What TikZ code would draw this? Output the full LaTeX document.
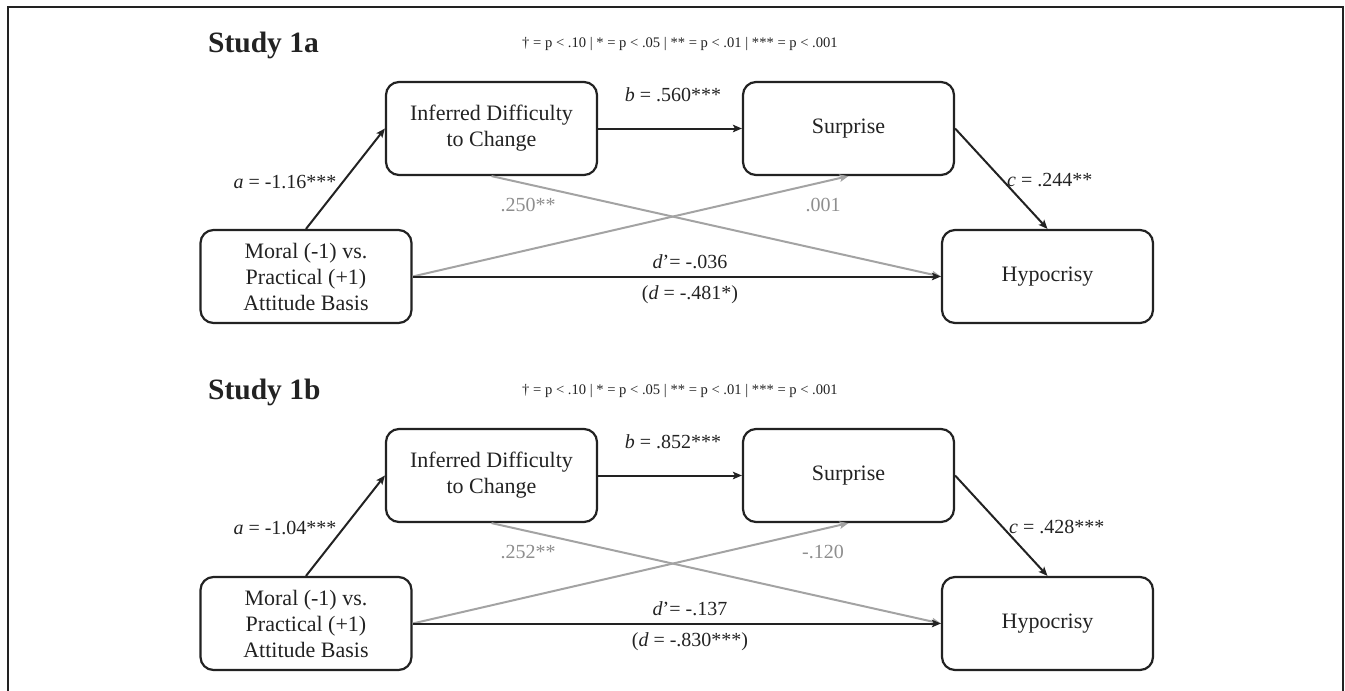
\documentclass[tikz,border=0pt]{standalone}
\usepackage{fontspec}
\setmainfont{Liberation Serif}
\usetikzlibrary{arrows.meta}
\definecolor{ink}{HTML}{222222}
\definecolor{lgray}{HTML}{A3A3A3}
\definecolor{tgray}{HTML}{8E8E8E}
\tikzset{
  box/.style={draw=ink, line width=2.2pt, rounded corners=13pt, minimum width=211pt,
    minimum height=93pt, align=center, inner sep=0pt, text=ink,
    font=\fontsize{22}{26}\selectfont},
  arr/.style={-{Stealth[length=9pt,width=7.5pt,inset=2pt]}, line width=2pt, draw=ink},
  garr/.style={-{Stealth[length=9pt,width=7.5pt,inset=2pt]}, line width=2pt, draw=lgray},
  lab/.style={inner sep=0pt, text=ink, font=\fontsize{20}{24}\selectfont},
  glab/.style={inner sep=0pt, text=tgray, font=\fontsize{20}{24}\selectfont},
  ttl/.style={inner sep=0pt, text=ink, anchor=base west, font=\fontsize{29.5}{32}\selectfont\bfseries},
  note/.style={inner sep=0pt, text=ink, anchor=base, font=\fontsize{14.6}{17}\selectfont}
}
\begin{document}
\begin{tikzpicture}[x=1pt,y=-1pt]
\useasboundingbox (0,0) rectangle (1345,691);
\draw[ink, line width=1.8pt] (8,691) -- (8,7) -- (1343,7) -- (1343,691);

% ---------- Study 1a ----------
\node[ttl] (t1) at (208,52) {Study 1a};
\node[note] (n1) at (680,47) {† = p < .10 | * = p < .05 | ** = p < .01 | *** = p < .001};
\node[box] (idc1) at (491.5,128.5) {Inferred Difficulty\\to Change};
\node[box] (sur1) at (848.5,128.5) {Surprise};
\node[box] (mor1) at (306,276.5) {Moral (-1) vs.\\Practical (+1)\\Attitude Basis};
\node[box] (hyp1) at (1047.5,276.5) {Hypocrisy};
\draw[garr] (idc1.south) -- (hyp1.west);
\draw[garr] (mor1.east) -- (sur1.south);
\draw[arr] (mor1.north) -- (idc1.west);
\draw[arr] (idc1.east) -- (sur1.west);
\draw[arr] (sur1.east) -- (hyp1.north);
\draw[arr] (mor1.east) -- (hyp1.west);
\node[lab] (la1) at (285,182) {\textit{a} = -1.16***};
\node[lab] (lb1) at (673,95) {\textit{b} = .560***};
\node[lab, anchor=west] (lc1) at (1007,180) {\textit{c} = .244**};
\node[glab] (lx1) at (528,205) {.250**};
\node[glab] (ly1) at (823,205) {.001};
\node[lab] (ld1) at (690,262) {\textit{d}’= -.036};
\node[lab] (le1) at (690,295) {(\textit{d} = -.481*)};

% ---------- Study 1b ----------
\node[ttl] (t2) at (208,399) {Study 1b};
\node[note] (n2) at (680,394) {† = p < .10 | * = p < .05 | ** = p < .01 | *** = p < .001};
\node[box] (idc2) at (491.5,475.5) {Inferred Difficulty\\to Change};
\node[box] (sur2) at (848.5,475.5) {Surprise};
\node[box] (mor2) at (306,623.5) {Moral (-1) vs.\\Practical (+1)\\Attitude Basis};
\node[box] (hyp2) at (1047.5,623.5) {Hypocrisy};
\draw[garr] (idc2.south) -- (hyp2.west);
\draw[garr] (mor2.east) -- (sur2.south);
\draw[arr] (mor2.north) -- (idc2.west);
\draw[arr] (idc2.east) -- (sur2.west);
\draw[arr] (sur2.east) -- (hyp2.north);
\draw[arr] (mor2.east) -- (hyp2.west);
\node[lab] (la2) at (285,528) {\textit{a} = -1.04***};
\node[lab] (lb2) at (673,442) {\textit{b} = .852***};
\node[lab, anchor=west] (lc2) at (1009,527) {\textit{c} = .428***};
\node[glab] (lx2) at (528,552) {.252**};
\node[glab] (ly2) at (823,552) {-.120};
\node[lab] (ld2) at (690,609) {\textit{d}’= -.137};
\node[lab] (le2) at (690,642) {(\textit{d} = -.830***)};
\end{tikzpicture}
\end{document}
